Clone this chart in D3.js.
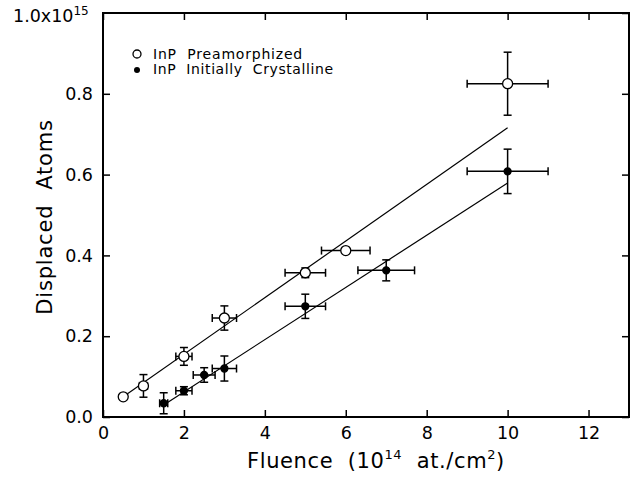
<!DOCTYPE html>
<html>
<head>
<meta charset="utf-8">
<script src="https://cdn.jsdelivr.net/npm/d3@7"></script>
<style>
  body { margin: 0; background: #fff; }
  text { font-family: "DejaVu Sans", sans-serif; fill: #000; }
</style>
</head>
<body>
<svg id="chart" width="634" height="478"></svg>
<script>
// Preamorphized (open circles)
var preX    = [0.5, 1, 2, 3, 5, 6, 10];
var preY    = [0.050, 0.077, 0.150, 0.245, 0.357, 0.412, 0.825];
var preXerr = [0.05, 0.1, 0.2, 0.3, 0.5, 0.6, 1.0];
var preYerr = [0.004, 0.028, 0.022, 0.030, 0.012, 0.006, 0.078];

// Initially crystalline (filled circles)
var crX    = [1.5, 2, 2.5, 3, 5, 7, 10];
var crY    = [0.034, 0.065, 0.104, 0.120, 0.274, 0.363, 0.608];
var crXerr = [0.1, 0.2, 0.27, 0.3, 0.5, 0.7, 1.0];
var crYerr = [0.026, 0.010, 0.018, 0.031, 0.030, 0.026, 0.055];

// fit line end points
var preFitX = [0.5, 10], preFitY = [0.050, 0.716];
var crFitX  = [1.5, 10], crFitY  = [0.030, 0.579];

var xTicks = [0, 2, 4, 6, 8, 10, 12];
var yTicks = [0, 0.2, 0.4, 0.6, 0.8, 1.0];

var margin = { top: 13, right: 5, bottom: 61, left: 103 };
var W = 634, H = 478;
var w = W - margin.left - margin.right, h = H - margin.top - margin.bottom;

var svg = d3.select("#chart");
var g = svg.append("g").attr("transform", "translate(" + margin.left + "," + margin.top + ")");

var x = d3.scaleLinear().domain([0, 13]).range([0, w]);
var y = d3.scaleLinear().domain([0, 1.0]).range([h, 0]);

// axes, ticks inward
g.append("g").attr("transform", "translate(0," + h + ")")
  .call(d3.axisBottom(x).tickValues(xTicks).tickSize(-7).tickPadding(10).tickFormat(d3.format("d")))
  .call(function (a) { a.select(".domain").remove(); a.selectAll("text").attr("font-size", 17.5); });
g.append("g")
  .call(d3.axisLeft(y).tickValues(yTicks.slice(0, 5)).tickSize(-7).tickPadding(10).tickFormat(d3.format(".1f")))
  .call(function (a) { a.select(".domain").remove(); a.selectAll("text").attr("font-size", 17.5); });
g.append("g")
  .call(d3.axisTop(x).tickValues(xTicks).tickSize(-7).tickFormat(""))
  .call(function (a) { a.select(".domain").remove(); });
g.append("g").attr("transform", "translate(" + w + ",0)")
  .call(d3.axisRight(y).tickValues(yTicks).tickSize(-7).tickFormat(""))
  .call(function (a) { a.select(".domain").remove(); });
g.selectAll(".tick line").attr("stroke-width", 1.5);

g.append("rect").attr("width", w).attr("height", h)
  .attr("fill", "none").attr("stroke", "#000").attr("stroke-width", 2);

// top-left label
svg.append("text").attr("x", 13).attr("y", 22).attr("font-size", 17.5)
  .text("1.0x10").append("tspan").attr("dy", -7).attr("font-size", 12).text("15");

// fit lines
var line = d3.line().x(function (d) { return x(d[0]); }).y(function (d) { return y(d[1]); });
g.append("path").datum(d3.zip(preFitX, preFitY)).attr("d", line)
  .attr("fill", "none").attr("stroke", "#000").attr("stroke-width", 1.2);
g.append("path").datum(d3.zip(crFitX, crFitY)).attr("d", line)
  .attr("fill", "none").attr("stroke", "#000").attr("stroke-width", 1.2);

function drawSeries(xs, ys, xe, ye, fill) {
  var data = xs.map(function (v, i) { return { x: v, y: ys[i], xe: xe[i], ye: ye[i] }; });
  var s = g.append("g");
  var cap = 4;
  data.forEach(function (d) {
    var e = s.append("g").attr("stroke", "#000").attr("stroke-width", 1.5);
    e.append("line").attr("x1", x(d.x - d.xe)).attr("x2", x(d.x + d.xe)).attr("y1", y(d.y)).attr("y2", y(d.y));
    e.append("line").attr("x1", x(d.x - d.xe)).attr("x2", x(d.x - d.xe)).attr("y1", y(d.y) - cap).attr("y2", y(d.y) + cap);
    e.append("line").attr("x1", x(d.x + d.xe)).attr("x2", x(d.x + d.xe)).attr("y1", y(d.y) - cap).attr("y2", y(d.y) + cap);
    e.append("line").attr("x1", x(d.x)).attr("x2", x(d.x)).attr("y1", y(d.y - d.ye)).attr("y2", y(d.y + d.ye));
    e.append("line").attr("x1", x(d.x) - cap).attr("x2", x(d.x) + cap).attr("y1", y(d.y - d.ye)).attr("y2", y(d.y - d.ye));
    e.append("line").attr("x1", x(d.x) - cap).attr("x2", x(d.x) + cap).attr("y1", y(d.y + d.ye)).attr("y2", y(d.y + d.ye));
  });
  s.selectAll("circle").data(data).enter().append("circle")
    .attr("cx", function (d) { return x(d.x); })
    .attr("cy", function (d) { return y(d.y); })
    .attr("r", fill ? 3.5 : 5)
    .attr("fill", fill ? "#000" : "#fff")
    .attr("stroke", "#000").attr("stroke-width", 1.3);
}
drawSeries(preX, preY, preXerr, preYerr, false);
drawSeries(crX, crY, crXerr, crYerr, true);

// legend
svg.append("circle").attr("cx", 137).attr("cy", 54).attr("r", 4)
  .attr("fill", "#fff").attr("stroke", "#000").attr("stroke-width", 1.3);
svg.append("circle").attr("cx", 137).attr("cy", 70).attr("r", 3)
  .attr("fill", "#000");
svg.append("text").attr("x", 153).attr("y", 59).attr("font-size", 14).attr("letter-spacing", 0.8)
  .attr("xml:space", "preserve").text("InP  Preamorphized");
svg.append("text").attr("x", 153).attr("y", 74).attr("font-size", 14).attr("letter-spacing", 0.6)
  .attr("xml:space", "preserve").text("InP  Initially  Crystalline");

// axis titles
var xt = svg.append("text").attr("x", 376).attr("y", 468).attr("text-anchor", "middle").attr("font-size", 21)
  .attr("letter-spacing", 0.6).attr("xml:space", "preserve");
xt.append("tspan").text("Fluence  (10");
xt.append("tspan").attr("dy", -9).attr("font-size", 13).text("14");
xt.append("tspan").attr("dy", 9).text("  at./cm");
xt.append("tspan").attr("dy", -9).attr("font-size", 13).text("2");
xt.append("tspan").attr("dy", 9).text(")");

svg.append("text").attr("transform", "translate(52,217) rotate(-90)")
  .attr("text-anchor", "middle").attr("font-size", 21).attr("letter-spacing", 0.8)
  .attr("xml:space", "preserve")
  .text("Displaced  Atoms");
</script>
</body>
</html>
